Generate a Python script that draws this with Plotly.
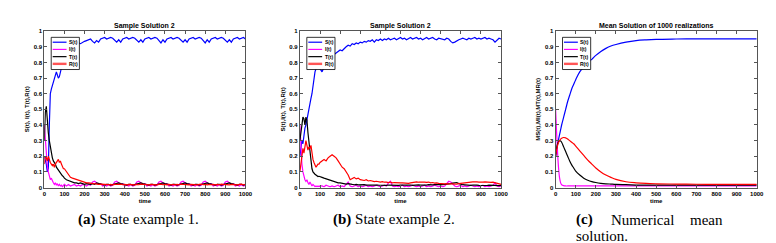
import plotly.graph_objects as go

# ---------------- data ----------------
time_early = list(range(0, 101, 5))
time_late = list(range(110, 1001, 10))
time_sample = time_early + time_late

# Panel (a): sample path 1
S_a = [0.2, 0.18, 0.15, 0.1, 0.12, 0.4, 0.6, 0.63, 0.65, 0.67, 0.7, 0.72, 0.74, 0.72, 0.7, 0.71, 0.74, 0.78, 0.8, 0.82, 0.84,
       0.86, 0.89, 0.93, 0.94, 0.95, 0.94, 0.925, 0.92, 0.93, 0.935,
       0.94, 0.945, 0.95, 0.935, 0.925, 0.94, 0.93, 0.95, 0.955, 0.96,
       0.95, 0.955, 0.96, 0.955, 0.94, 0.93, 0.945, 0.93, 0.95, 0.955,
       0.96, 0.95, 0.955, 0.96, 0.955, 0.94, 0.93, 0.945, 0.93, 0.95,
       0.955, 0.96, 0.95, 0.955, 0.96, 0.955, 0.94, 0.925, 0.945, 0.93,
       0.95, 0.955, 0.96, 0.95, 0.955, 0.96, 0.955, 0.94, 0.93, 0.945,
       0.93, 0.95, 0.955, 0.96, 0.95, 0.955, 0.96, 0.955, 0.94, 0.925,
       0.945, 0.93, 0.95, 0.955, 0.96, 0.95, 0.955, 0.96, 0.955, 0.94,
       0.93, 0.945, 0.93, 0.95, 0.955, 0.96, 0.95, 0.955, 0.96, 0.95]
I_a = [0.4, 0.3, 0.2, 0.14, 0.1, 0.07, 0.05, 0.06, 0.04, 0.03, 0.02, 0.03, 0.015, 0.025, 0.01, 0.02, 0.01, 0.015, 0.005, 0.01, 0.02,
       0.01, 0.02, 0.01, 0.015, 0.02, 0.01, 0.015, 0.01, 0.02, 0.015,
       0.01, 0.02, 0.015, 0.035, 0.04, 0.03, 0.02, 0.025, 0.01, 0.015,
       0.01, 0.02, 0.01, 0.015, 0.035, 0.04, 0.03, 0.02, 0.025, 0.01,
       0.015, 0.01, 0.02, 0.01, 0.015, 0.035, 0.04, 0.03, 0.02, 0.025,
       0.01, 0.015, 0.01, 0.02, 0.01, 0.015, 0.035, 0.04, 0.03, 0.02,
       0.025, 0.01, 0.015, 0.01, 0.02, 0.01, 0.015, 0.035, 0.04, 0.03,
       0.02, 0.025, 0.01, 0.015, 0.01, 0.02, 0.01, 0.015, 0.035, 0.04,
       0.03, 0.02, 0.025, 0.01, 0.015, 0.01, 0.02, 0.01, 0.015, 0.035,
       0.04, 0.03, 0.02, 0.025, 0.01, 0.015, 0.01, 0.02, 0.01, 0.015]
T_a = [0.3, 0.48, 0.52, 0.42, 0.35, 0.3, 0.26, 0.22, 0.19, 0.17, 0.16, 0.15, 0.13, 0.12, 0.11, 0.1, 0.09, 0.08, 0.075, 0.07, 0.06,
       0.05, 0.045, 0.04, 0.035, 0.03, 0.03, 0.025, 0.03, 0.025, 0.02,
       0.025, 0.02, 0.02, 0.025, 0.02, 0.03, 0.025, 0.02, 0.02, 0.015,
       0.02, 0.02, 0.015, 0.02, 0.02, 0.025, 0.03, 0.025, 0.02, 0.02,
       0.015, 0.02, 0.02, 0.015, 0.02, 0.02, 0.025, 0.03, 0.025, 0.02,
       0.02, 0.015, 0.02, 0.02, 0.015, 0.02, 0.02, 0.025, 0.03, 0.025,
       0.02, 0.02, 0.015, 0.02, 0.02, 0.015, 0.02, 0.02, 0.025, 0.03,
       0.025, 0.02, 0.02, 0.015, 0.02, 0.02, 0.015, 0.02, 0.02, 0.025,
       0.03, 0.025, 0.02, 0.02, 0.015, 0.02, 0.02, 0.015, 0.02, 0.02,
       0.025, 0.03, 0.025, 0.02, 0.02, 0.015, 0.02, 0.02, 0.015, 0.02]
R_a = [0.15, 0.2, 0.19, 0.17, 0.2, 0.17, 0.16, 0.15, 0.14, 0.15, 0.13, 0.15, 0.16, 0.17, 0.18, 0.16, 0.17, 0.15, 0.13, 0.12, 0.12,
       0.1, 0.08, 0.065, 0.06, 0.055, 0.05, 0.05, 0.045, 0.04, 0.035,
       0.03, 0.03, 0.028, 0.025, 0.025, 0.022, 0.02, 0.022, 0.02, 0.018,
       0.02, 0.018, 0.02, 0.017, 0.02, 0.018, 0.02, 0.022, 0.018, 0.02,
       0.017, 0.02, 0.018, 0.02, 0.017, 0.02, 0.018, 0.022, 0.02, 0.018,
       0.02, 0.017, 0.02, 0.018, 0.02, 0.017, 0.02, 0.022, 0.018, 0.02,
       0.017, 0.02, 0.018, 0.02, 0.017, 0.02, 0.018, 0.022, 0.02, 0.018,
       0.02, 0.017, 0.02, 0.018, 0.02, 0.017, 0.02, 0.022, 0.018, 0.02,
       0.017, 0.02, 0.018, 0.02, 0.017, 0.02, 0.018, 0.022, 0.02, 0.018,
       0.02, 0.017, 0.02, 0.018, 0.02, 0.017, 0.02, 0.022, 0.018, 0.02]

# Panel (b): sample path 2
S_b = [0.2, 0.25, 0.3, 0.28, 0.35, 0.38, 0.4, 0.44, 0.47, 0.5, 0.54, 0.57, 0.6, 0.66, 0.72, 0.74, 0.76, 0.78, 0.77, 0.79, 0.76,
       0.74, 0.77, 0.78, 0.79, 0.8, 0.83, 0.85, 0.86, 0.87, 0.88,
       0.875, 0.89, 0.9, 0.91, 0.905, 0.92, 0.915, 0.925, 0.92, 0.93,
       0.925, 0.935, 0.93, 0.94, 0.935, 0.945, 0.93, 0.945, 0.94, 0.95,
       0.94, 0.95, 0.945, 0.955, 0.945, 0.95, 0.955, 0.945, 0.95, 0.96,
       0.95, 0.955, 0.945, 0.955, 0.96, 0.95, 0.955, 0.96, 0.95, 0.955,
       0.945, 0.955, 0.96, 0.95, 0.955, 0.96, 0.95, 0.945, 0.955, 0.95,
       0.95, 0.945, 0.955, 0.95, 0.935, 0.925, 0.93, 0.94, 0.945, 0.95,
       0.955, 0.95, 0.945, 0.955, 0.95, 0.955, 0.96, 0.95, 0.955, 0.95,
       0.955, 0.96, 0.95, 0.955, 0.95, 0.945, 0.93, 0.945, 0.955, 0.95]
I_b = [0.4, 0.25, 0.15, 0.1, 0.07, 0.05, 0.04, 0.05, 0.03, 0.02, 0.035, 0.02, 0.01, 0.02, 0.01, 0.005, 0.01, 0.005, 0.01, 0.005, 0.01,
       0.01, 0.005, 0.015, 0.01, 0.005, 0.01, 0.005, 0.01, 0.015, 0.005,
       0.01, 0.005, 0.02, 0.035, 0.01, 0.005, 0.01, 0.015, 0.005, 0.01,
       0.005, 0.01, 0.015, 0.005, 0.01, 0.005, 0.01, 0.015, 0.01, 0.005,
       0.01, 0.015, 0.01, 0.03, 0.04, 0.01, 0.005, 0.01, 0.005, 0.01,
       0.015, 0.005, 0.01, 0.005, 0.01, 0.015, 0.01, 0.005, 0.01, 0.005,
       0.01, 0.015, 0.005, 0.01, 0.005, 0.01, 0.015, 0.01, 0.005, 0.01,
       0.005, 0.01, 0.025, 0.04, 0.035, 0.02, 0.01, 0.005, 0.01, 0.015,
       0.005, 0.01, 0.005, 0.01, 0.015, 0.01, 0.005, 0.01, 0.005, 0.01,
       0.015, 0.005, 0.01, 0.005, 0.01, 0.015, 0.03, 0.01, 0.005, 0.01]
T_b = [0.3, 0.35, 0.42, 0.45, 0.44, 0.4, 0.45, 0.43, 0.35, 0.28, 0.22, 0.15, 0.12, 0.1, 0.09, 0.085, 0.08, 0.075, 0.07, 0.072, 0.068,
       0.065, 0.06, 0.055, 0.05, 0.048, 0.045, 0.04, 0.035, 0.03, 0.03,
       0.028, 0.025, 0.022, 0.025, 0.02, 0.02, 0.018, 0.02, 0.017, 0.018,
       0.016, 0.018, 0.015, 0.017, 0.015, 0.016, 0.014, 0.016, 0.015, 0.014,
       0.016, 0.015, 0.014, 0.016, 0.015, 0.017, 0.015, 0.016, 0.014, 0.015,
       0.016, 0.015, 0.017, 0.015, 0.016, 0.014, 0.016, 0.015, 0.017, 0.016,
       0.015, 0.017, 0.016, 0.018, 0.016, 0.017, 0.018, 0.02, 0.018, 0.02,
       0.019, 0.02, 0.022, 0.02, 0.025, 0.028, 0.03, 0.032, 0.025, 0.02,
       0.018, 0.017, 0.015, 0.016, 0.014, 0.015, 0.013, 0.015, 0.014, 0.013,
       0.015, 0.014, 0.013, 0.015, 0.014, 0.012, 0.014, 0.013, 0.012, 0.013]
R_b = [0.1, 0.15, 0.2, 0.25, 0.22, 0.28, 0.3, 0.27, 0.24, 0.26, 0.25, 0.27, 0.22, 0.18, 0.16, 0.14, 0.13, 0.14, 0.15, 0.15, 0.16,
       0.17, 0.18, 0.17, 0.19, 0.2, 0.21, 0.2, 0.19, 0.17, 0.15,
       0.13, 0.12, 0.1, 0.08, 0.05, 0.06, 0.065, 0.055, 0.06, 0.05,
       0.048, 0.045, 0.05, 0.042, 0.045, 0.04, 0.038, 0.04, 0.036, 0.035,
       0.038, 0.034, 0.035, 0.032, 0.035, 0.03, 0.032, 0.03, 0.028, 0.03,
       0.03, 0.028, 0.03, 0.027, 0.03, 0.032, 0.035, 0.036, 0.034, 0.035,
       0.036, 0.035, 0.033, 0.035, 0.03, 0.032, 0.028, 0.03, 0.027, 0.025,
       0.026, 0.024, 0.025, 0.022, 0.024, 0.023, 0.025, 0.022, 0.025, 0.027,
       0.03, 0.032, 0.035, 0.033, 0.035, 0.036, 0.034, 0.036, 0.035, 0.037,
       0.035, 0.036, 0.034, 0.035, 0.033, 0.035, 0.03, 0.025, 0.022, 0.02]

# Panel (c): mean of 1000 realizations
time_mean = [0, 5, 10, 15, 20, 25, 30, 40, 50, 60, 70, 80, 90, 100, 120, 140, 160, 180, 200,
             225, 250, 275, 300, 350, 400, 450, 500, 600, 700, 800, 900, 1000]
S_c = [0.2, 0.24, 0.28, 0.31, 0.34, 0.37, 0.4, 0.45, 0.5, 0.55, 0.59, 0.63, 0.66, 0.69, 0.74, 0.77, 0.8, 0.82, 0.845,
       0.87, 0.89, 0.905, 0.915, 0.93, 0.94, 0.945, 0.948, 0.95, 0.951, 0.951, 0.951, 0.951]
I_c = [0.5, 0.35, 0.22, 0.12, 0.06, 0.03, 0.018, 0.012, 0.01, 0.01, 0.01, 0.01, 0.01, 0.01, 0.01, 0.01, 0.01, 0.01, 0.01,
       0.01, 0.01, 0.01, 0.01, 0.01, 0.01, 0.01, 0.01, 0.01, 0.01, 0.01, 0.01, 0.01]
T_c = [0.2, 0.25, 0.28, 0.295, 0.3, 0.298, 0.29, 0.26, 0.23, 0.2, 0.17, 0.145, 0.125, 0.105, 0.08, 0.06, 0.047, 0.038, 0.032,
       0.027, 0.024, 0.022, 0.02, 0.018, 0.016, 0.015, 0.015, 0.015, 0.015, 0.015, 0.015, 0.015]
R_c = [0.2, 0.24, 0.27, 0.29, 0.3, 0.31, 0.315, 0.32, 0.318, 0.31, 0.3, 0.29, 0.28, 0.265, 0.235, 0.205, 0.175, 0.15, 0.125,
       0.1, 0.08, 0.065, 0.052, 0.037, 0.03, 0.026, 0.024, 0.022, 0.021, 0.02, 0.02, 0.02]

series_names = ["S(t)", "I(t)", "T(t)", "R(t)"]
series_colors = ["#0000ff", "#ff00ff", "#000000", "#ff0000"]
panel_titles = ["Sample Solution 2", "Sample Solution 2", "Mean Solution of 1000 realizations"]
y_titles = ["S(t), I(t), T(t),R(t)", "S(t),I(t), T(t),R(t)", "MS(t),MI(t),MT(t),MR(t)"]
x_title = "time"

# ---------------- figure ----------------
W, H = 776, 243
def px(x):
    return x / W
def py(y):
    return 1 - y / H

plot_left = [34.7, 293.3, 552.0]
plot_w = 203.5
plot_top, plot_bot = 20.7, 181.0

panels = [
    (time_sample, [S_a, I_a, T_a, R_a], "linear"),
    (time_sample, [S_b, I_b, T_b, R_b], "linear"),
    (time_mean, [S_c, I_c, T_c, R_c], "spline"),
]

fig = go.Figure()
axis_font = dict(family="Liberation Sans", size=6, color="#000", weight="bold")
for k, (tt, ys, shape) in enumerate(panels):
    xa = "x" if k == 0 else f"x{k+1}"
    ya = "y" if k == 0 else f"y{k+1}"
    for name, col, yv in zip(series_names, series_colors, ys):
        fig.add_trace(go.Scatter(x=tt, y=yv, mode="lines", name=name, showlegend=False,
                                 line=dict(color=col, width=1.2, shape=shape),
                                 xaxis=xa, yaxis=ya))
    xkey = "xaxis" if k == 0 else f"xaxis{k+1}"
    ykey = "yaxis" if k == 0 else f"yaxis{k+1}"
    L = plot_left[k]
    fig.update_layout(**{
        xkey: dict(domain=[px(L), px(L + plot_w)], anchor=ya, range=[0, 1000], dtick=100,
                   showline=True, mirror="ticks", linecolor="#555", linewidth=1,
                   ticks="inside", ticklen=3, tickcolor="#555", showgrid=False, zeroline=False,
                   tickfont=axis_font,
                   title=dict(text=x_title, font=axis_font, standoff=3)),
        ykey: dict(domain=[py(plot_bot), py(plot_top)], anchor=xa, range=[0, 1], dtick=0.1,
                   showline=True, mirror="ticks", linecolor="#555", linewidth=1,
                   ticks="inside", ticklen=3, tickcolor="#555", showgrid=False, zeroline=False,
                   tickfont=axis_font,
                   title=dict(text=y_titles[k], font=axis_font, standoff=3)),
    })
    # panel title
    fig.add_annotation(text=panel_titles[k], x=px(L + plot_w / 2), y=py(15), xref="paper", yref="paper",
                       showarrow=False, xanchor="center", yanchor="middle",
                       font=dict(family="Liberation Sans", size=7, color="#000", weight="bold"))
    # legend box
    lx0, lx1 = L + 7, L + 35.5
    ly0, ly1 = 27, 60
    fig.add_shape(type="rect", xref="paper", yref="paper", x0=px(lx0), x1=px(lx1), y0=py(ly1), y1=py(ly0),
                  line=dict(color="#000", width=0.8), fillcolor="#fff", layer="above")
    for j, (name, col) in enumerate(zip(series_names, series_colors)):
        yy = 32 + j * 7.4
        w = 1.2 if j < 3 else 2.4
        c = col if j < 3 else "#ff5555"
        fig.add_shape(type="line", xref="paper", yref="paper", x0=px(lx0 + 1.5), x1=px(lx0 + 15.5),
                      y0=py(yy), y1=py(yy), line=dict(color=c, width=w), layer="above")
        fig.add_annotation(text=name, x=px(lx0 + 16), y=py(yy), xref="paper", yref="paper",
                           showarrow=False, xanchor="left", yanchor="middle",
                           font=dict(family="Liberation Sans", size=5, color="#000", weight="bold"))

cap_font = dict(family="Liberation Serif", size=15, color="#000")
fig.add_annotation(text="<b>(a)</b> State example 1.", x=px(130), y=py(214), xref="paper", yref="paper",
                   showarrow=False, xanchor="center", yanchor="middle", font=cap_font)
fig.add_annotation(text="<b>(b)</b> State example 2.", x=px(388), y=py(214), xref="paper", yref="paper",
                   showarrow=False, xanchor="center", yanchor="middle", font=cap_font)
fig.add_annotation(text="<b>(c)</b>", x=px(571), y=py(214), xref="paper", yref="paper",
                   showarrow=False, xanchor="left", yanchor="middle", font=cap_font)
fig.add_annotation(text="Numerical", x=px(640), y=py(214), xref="paper", yref="paper",
                   showarrow=False, xanchor="center", yanchor="middle", font=cap_font)
fig.add_annotation(text="mean", x=px(723), y=py(214), xref="paper", yref="paper",
                   showarrow=False, xanchor="right", yanchor="middle", font=cap_font)
fig.add_annotation(text="solution.", x=px(571), y=py(230.5), xref="paper", yref="paper",
                   showarrow=False, xanchor="left", yanchor="middle", font=cap_font)

fig.update_layout(width=W, height=H, margin=dict(l=0, r=0, t=0, b=0),
                  paper_bgcolor="#fff", plot_bgcolor="#fff", showlegend=False)

fig.write_html("out.html")
